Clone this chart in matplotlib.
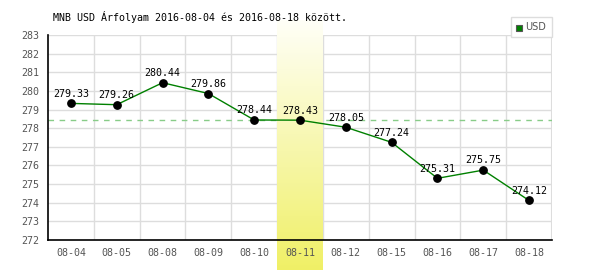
import numpy as np
import matplotlib
matplotlib.use("Agg")
import matplotlib.pyplot as plt
from matplotlib.patches import Rectangle

dates = ["08-04", "08-05", "08-08", "08-09", "08-10", "08-11",
         "08-12", "08-15", "08-16", "08-17", "08-18"]
rates = [279.33, 279.26, 280.44, 279.86, 278.44, 278.43,
         278.05, 277.24, 275.31, 275.75, 274.12]
ref_line = 278.42   # dashed reference level
highlight = "08-11"
y_ticks = list(range(272, 284))

plt.rcParams['font.family'] = ['DejaVu Sans Mono']

fig = plt.figure(figsize=(6, 2.7), dpi=100)
ax = fig.add_axes([48/600, 30/270, 504/600, 205/270])

x = np.arange(len(dates))

# grid: vertical at category borders, horizontal at each integer
for b in np.arange(0.5, len(dates) - 0.5, 1):
    ax.axvline(b, color="#dddddd", lw=1, zorder=0)
ax.axvline(len(dates) - 0.5, color="#dddddd", lw=1.5, zorder=0)
for t in y_ticks[1:]:
    ax.axhline(t, color="#dddddd", lw=1, zorder=0)

ax.axhline(ref_line, color="#88cc88", lw=1, ls=(0, (4, 4)), zorder=0.5)

# highlighted day with vertical yellow gradient running past the axes
hi = dates.index(highlight)
grad = np.linspace(0, 1, 256).reshape(-1, 1)
top_c = np.array([1.0, 1.0, 0.97])
bot_c = np.array([0.94, 0.94, 0.40])
img = top_c[None, None, :] * (1 - grad[..., None]) + bot_c[None, None, :] * grad[..., None]
upp = 18.64  # pixels per unit
ax.imshow(img, extent=[hi - 0.5, hi + 0.5, 272 - 30/upp, 283 + 15/upp],
          aspect="auto", origin="upper", zorder=1, clip_on=False)
ax.set_xlim(-0.5, len(dates) - 0.5)
ax.set_ylim(272, 283)

ax.plot(x, rates, color="#008000", lw=1, zorder=3, label="USD")
ax.scatter(x, rates, s=28, color="black", zorder=4)
for xi, v in zip(x, rates):
    ax.text(xi, v + 0.25, f"{v:.2f}", ha="center", va="bottom",
            fontsize=7.2, color="black", zorder=5)

ax.set_xticks(x)
ax.set_xticklabels(dates)
ax.set_yticks(y_ticks)
ax.tick_params(length=0, labelsize=7.2, colors="#555555", pad=6)

for s in ["top", "right"]:
    ax.spines[s].set_visible(False)
for s in ["left", "bottom"]:
    ax.spines[s].set_color("black")
    ax.spines[s].set_linewidth(1.2)
    ax.spines[s].set_zorder(6)

fig.text(53/600, 1 - 17/270, "MNB USD Árfolyam 2016-08-04 és 2016-08-18 között.",
         fontsize=7.2, va="center", ha="left", color="black")

# legend box
fig.patches.append(Rectangle((511/600, 1 - 37/270), 41/600, 20/270,
                             transform=fig.transFigure, facecolor="white",
                             edgecolor="#dddddd", lw=1, zorder=10))
fig.patches.append(Rectangle((516/600, 1 - 31/270), 6/600, 6/270,
                             transform=fig.transFigure, facecolor="#008000",
                             edgecolor="#555555", lw=0.8, zorder=11))
fig.text(525/600, 1 - 27.5/270, "USD", fontsize=7, color="#555555",
         va="center", ha="left", family="DejaVu Sans", zorder=12)

fig.savefig("out.png", dpi=100, facecolor="white")
